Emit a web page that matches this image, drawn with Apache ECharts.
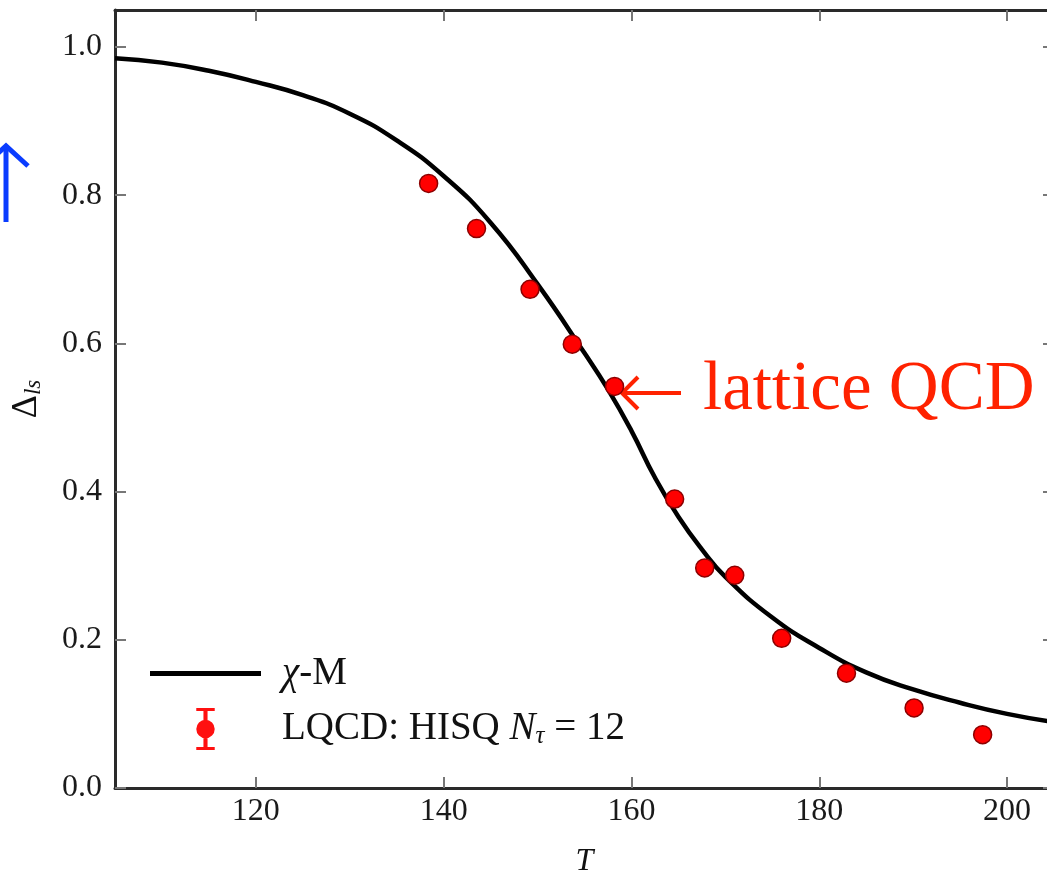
<!DOCTYPE html>
<html><head><meta charset="utf-8">
<script src="https://cdn.jsdelivr.net/npm/echarts@6/dist/echarts.min.js"></script>
<style>html,body{margin:0;padding:0;background:#fff}#c{width:1047px;height:873px}</style>
</head><body><div id="c"></div>
<script>
// chi-M model curve
const curveT = [105,110,115,120,125,130,135,140,145,150,155,157.5,160,162.5,165,167.5,170,175,180,185,190,195,200,205];
const curveD = [0.985,0.979,0.968,0.953,0.935,0.910,0.874,0.826,0.763,0.680,0.587,0.538,0.482,0.419,0.366,0.322,0.285,0.230,0.189,0.156,0.133,0.115,0.100,0.089];
// lattice QCD points
const lqcdT = [138.4,143.5,149.2,153.7,158.2,164.6,167.8,171.0,176.0,182.9,190.1,197.4];
const lqcdD = [0.816,0.755,0.673,0.599,0.542,0.390,0.297,0.287,0.202,0.155,0.108,0.072];
const xTicks = [120,140,160,180,200];
const yTicks = [0.0,0.2,0.4,0.6,0.8,1.0];
const nameModel = 'χ-M';
const nameLQCD = 'LQCD: HISQ N_tau = 12';

const FONT = 'Liberation Serif';
const spineStyle = {show:true, onZero:false, lineStyle:{color:'#2a2a2a', width:3}};
const tickStyle = {show:true, inside:true, length:11, lineStyle:{color:'#777', width:2}};

const chart = echarts.init(document.getElementById('c'));
const errIcon = 'path://M1,0 H19 V3 H1 Z M8,0 H12 V41 H8 Z M1,38 H19 V41 H1 Z M1,20.5 A9,9 0 1,1 19,20.5 A9,9 0 1,1 1,20.5 Z';
const lineIcon = 'path://M0,0 H111 V5 H0 Z';

chart.setOption({
  animation:false,
  backgroundColor:'#fff',
  grid:{left:115, top:10, width:939, height:778, containLabel:false, outerBoundsMode:'none'},
  xAxis:[{
    type:'value', min:105, max:205, position:'bottom',
    name:'T', nameLocation:'middle', nameGap:58,
    nameTextStyle:{fontFamily:FONT, fontStyle:'italic', fontSize:32, color:'#111'},
    axisLine:spineStyle, axisTick:Object.assign({customValues:xTicks}, tickStyle),
    axisLabel:{customValues:xTicks, fontFamily:FONT, fontSize:32, color:'#1a1a1a', margin:8},
    splitLine:{show:false}
  },{
    type:'value', min:105, max:205, position:'top',
    axisLine:spineStyle, axisTick:Object.assign({customValues:xTicks}, tickStyle),
    axisLabel:{show:false}, splitLine:{show:false}
  }],
  yAxis:[{
    type:'value', min:0, max:1.05, position:'left',
    name:'{d|Δ}{s|ls}', nameLocation:'middle', nameGap:70,
    nameTextStyle:{fontFamily:FONT, fontSize:36, color:'#111',
      rich:{d:{fontFamily:FONT, fontSize:36, color:'#111'}, s:{fontFamily:FONT, fontStyle:'italic', fontSize:23, color:'#111', verticalAlign:'bottom', padding:[14,0,0,0]}}},
    axisLine:spineStyle, axisTick:Object.assign({customValues:yTicks}, tickStyle),
    axisLabel:{customValues:yTicks, fontFamily:FONT, fontSize:32, color:'#1a1a1a', margin:13,
      formatter:v=>v.toFixed(1)},
    splitLine:{show:false}
  },{
    type:'value', min:0, max:1.05, position:'right',
    axisLine:spineStyle, axisTick:Object.assign({customValues:yTicks}, tickStyle),
    axisLabel:{show:false}, splitLine:{show:false}
  }],
  legend:{
    orient:'vertical', left:145, top:649, itemWidth:111, itemHeight:42, itemGap:15,
    textStyle:{fontFamily:FONT, fontSize:39, color:'#111',
      rich:{sp:{width:16}, r:{fontFamily:FONT, fontSize:39, color:'#111'}, i:{fontFamily:FONT, fontStyle:'italic', fontSize:39, color:'#111'},
            sb:{fontFamily:FONT, fontStyle:'italic', fontSize:25, color:'#111', verticalAlign:'bottom', padding:[14,0,0,0]}}},
    formatter:function(n){
      if(n===nameModel) return '{sp|\u00a0}{i|χ}{r|-M}';
      return '{sp|\u00a0}{r|LQCD: HISQ }{i|N}{sb|τ}{r| = 12}';
    },
    data:[{name:nameModel, icon:lineIcon, itemStyle:{color:'#000', borderWidth:0}},
          {name:nameLQCD, icon:errIcon, itemStyle:{color:'#ff1010', borderWidth:0}}]
  },
  series:[{
    name:nameModel, type:'line', smooth:0.5, symbol:'none',
    lineStyle:{color:'#000', width:4.5}, itemStyle:{color:'#000'},
    data:curveT.map((t,i)=>[t,curveD[i]]), z:2
  },{
    name:nameLQCD, type:'scatter', symbol:'circle', symbolSize:18,
    itemStyle:{color:'#ff0000', borderColor:'#8c0000', borderWidth:1.5, opacity:1},
    data:lqcdT.map((t,i)=>[t,lqcdD[i]]), z:3
  }],
  graphic:[
    {type:'text', x:703, y:391, style:{text:'lattice QCD', fontFamily:FONT, fontSize:69, fill:'#ff2200', verticalAlign:'middle'}},
    {type:'line', shape:{x1:621, y1:393, x2:681, y2:393}, style:{stroke:'#ff2200', lineWidth:4}},
    {type:'polyline', shape:{points:[[638,377],[622,393],[638,409]]}, style:{stroke:'#ff2200', lineWidth:4, fill:null}},
    {type:'line', shape:{x1:6, y1:147, x2:6, y2:222}, style:{stroke:'#0a3cff', lineWidth:5}},
    {type:'polyline', shape:{points:[[-16,166],[6,146],[28,166]]}, style:{stroke:'#0a3cff', lineWidth:5, fill:null}}
  ]
});
</script></body></html>
